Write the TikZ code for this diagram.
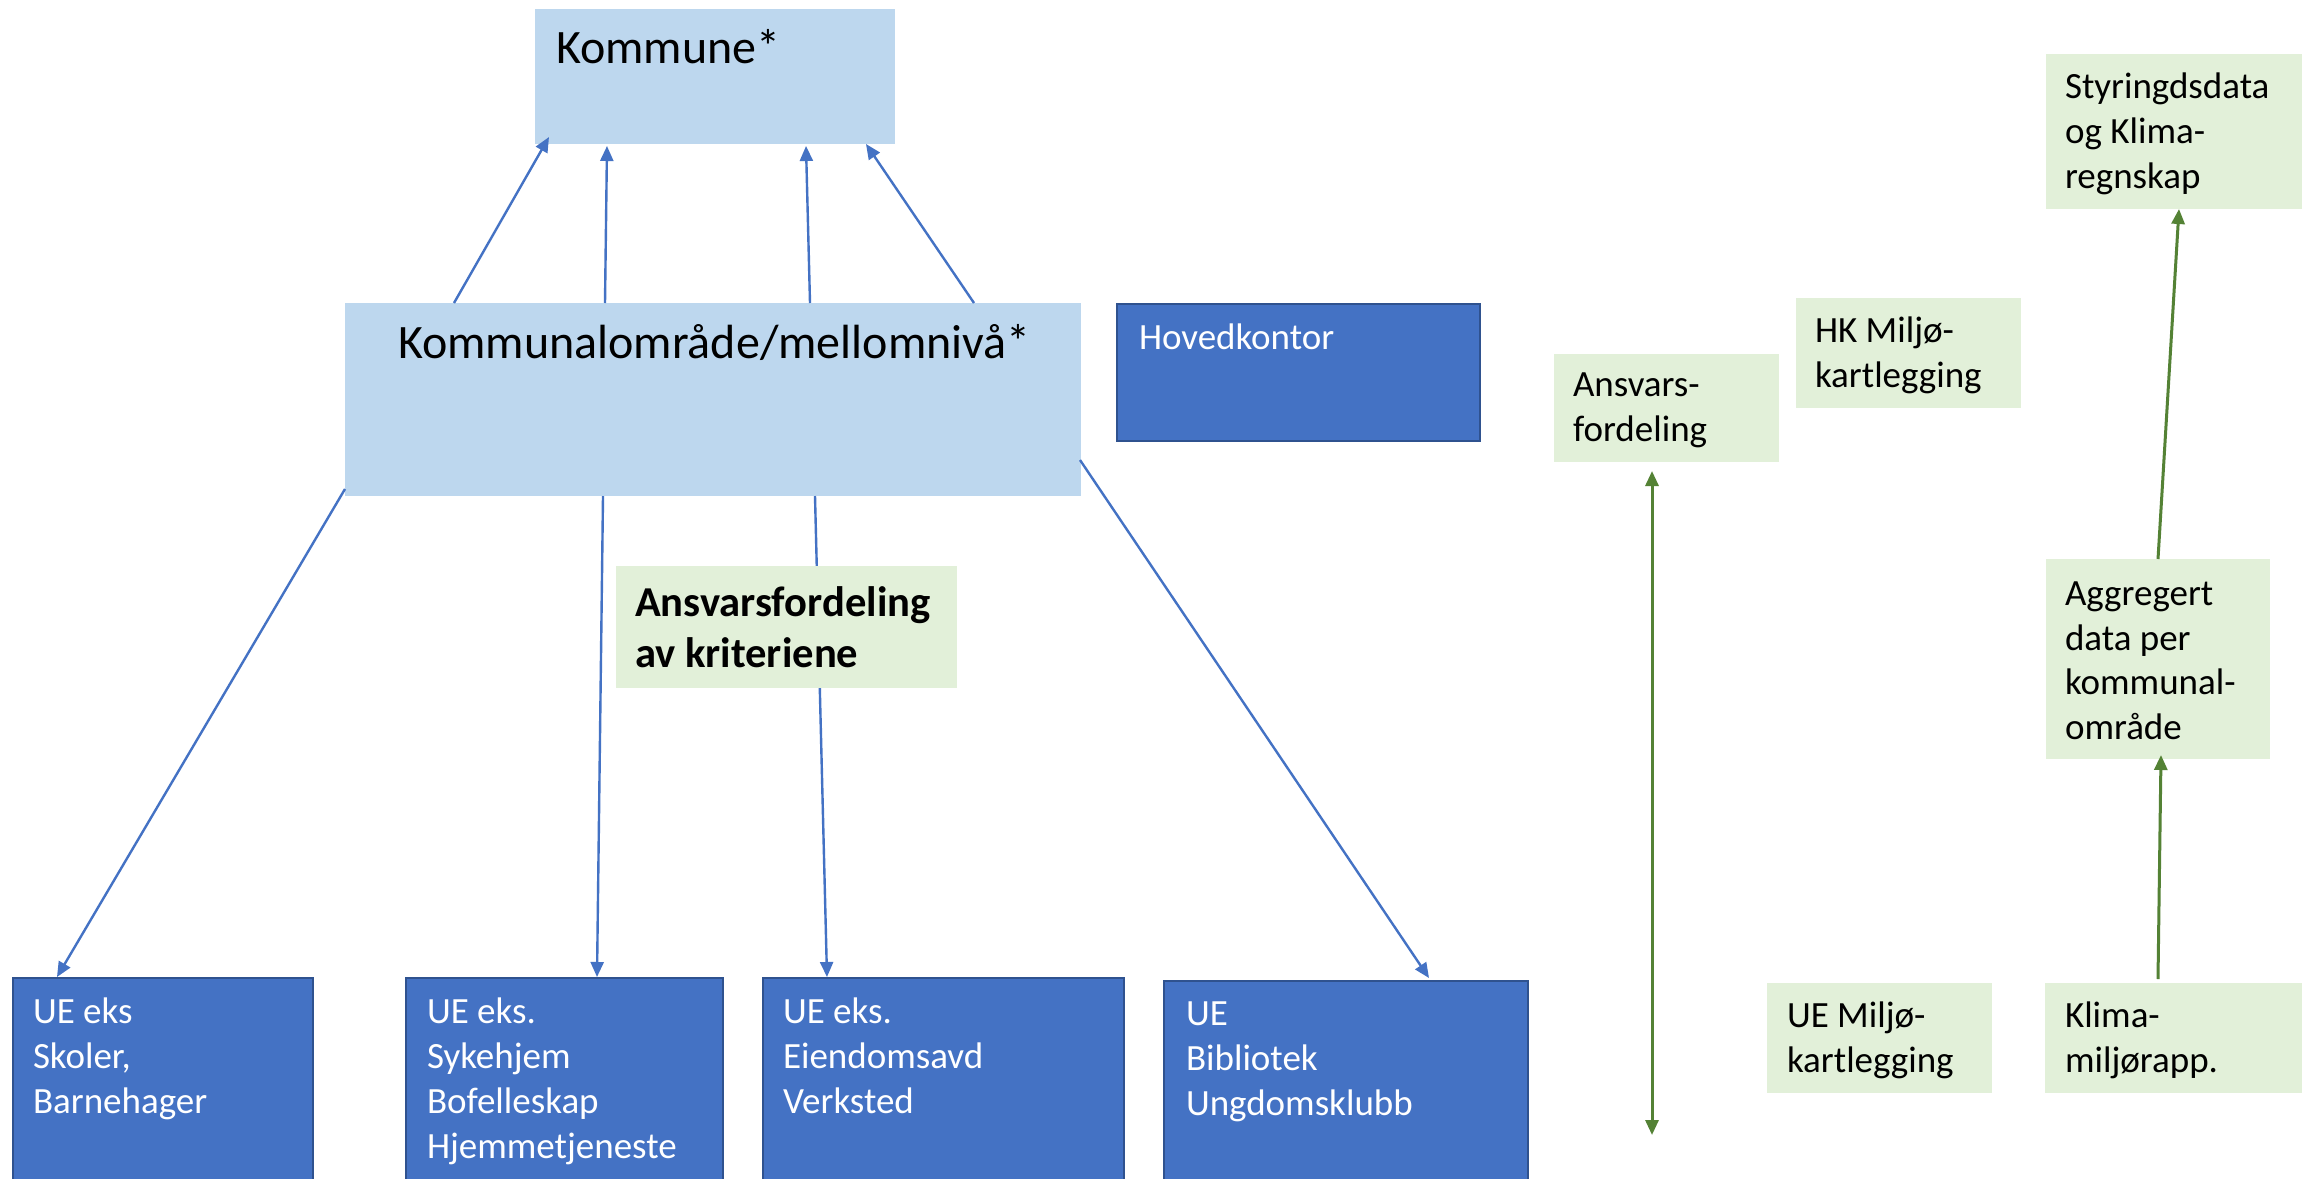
\documentclass[tikz,border=0pt]{standalone}
\usepackage{fontspec}
\setmainfont{Carlito}
\usetikzlibrary{arrows.meta,calc}
\definecolor{lblue}{HTML}{BDD7EE}
\definecolor{mblue}{HTML}{4472C4}
\definecolor{dblue}{HTML}{2F528F}
\definecolor{lgreen}{HTML}{E2F0D9}
\definecolor{dgreen}{HTML}{548235}
\begin{document}
\begin{tikzpicture}[x=1pt,y=-1pt,
  rbox/.style={anchor=north west, inner sep=0pt, outer sep=0pt},
  lbbox/.style={rbox, fill=lblue},
  bbox/.style={rbox, fill=mblue, draw=dblue, line width=2pt},
  gbox/.style={rbox, fill=lgreen},
  txt/.style={anchor=base west, inner sep=0pt, outer sep=0pt, align=left, font=\fontsize{37}{45}\selectfont},
  bigtxt/.style={txt, font=\fontsize{48}{56}\selectfont},
  wtxt/.style={txt, text=white},
  barrow/.style={draw=mblue, line width=2.4pt, -{Triangle[length=15pt,width=13pt]}},
  garrow/.style={draw=dgreen, line width=3pt, -{Triangle[length=15pt,width=13pt]}}]
\clip (0,0) rectangle (2302,1178);
\fill[white] (0,0) rectangle (2302,1178);

% (text nodes are anchored at the baseline of their last line)
% light blue boxes
\node[lbbox, minimum width=360pt, minimum height=135pt] (kommune) at (535,9) {};
\node[bigtxt] (kommune-t) at (556,63) {Kommune*};
\node[lbbox, minimum width=736pt, minimum height=193pt] (kommunal) at (345,303) {};
\node[bigtxt] (kommunal-t) at (398,358) {Kommunalområde/mellomnivå*};

% dark blue boxes
\node[bbox, minimum width=363pt, minimum height=137pt] (hoved) at (1117,304) {};
\node[wtxt] (hoved-t) at (1139,349) {Hovedkontor};
\node[bbox, minimum width=300pt, minimum height=220pt] (ue1) at (13,978) {};
\node[wtxt] (ue1-t) at (33,1113) {UE eks\\Skoler,\\Barnehager};
\node[bbox, minimum width=317pt, minimum height=220pt] (ue2) at (406,978) {};
\node[wtxt] (ue2-t) at (427,1158) {UE eks.\\Sykehjem\\Bofelleskap\\Hjemmetjeneste};
\node[bbox, minimum width=361pt, minimum height=220pt] (ue3) at (763,978) {};
\node[wtxt] (ue3-t) at (783,1113) {UE eks.\\Eiendomsavd\\Verksted};
\node[bbox, minimum width=364pt, minimum height=220pt] (ue4) at (1164,981) {};
\node[wtxt] (ue4-t) at (1186,1115) {UE\\Bibliotek\\Ungdomsklubb};

% blue arrows up
\draw[barrow] ($(kommunal.north west)+(109,0)$) -- ($(kommune.south west)+(14,-7)$);
\draw[barrow] ($(kommunal.north west)+(260,0)$) -- ($(kommune.south west)+(72,2)$);
\draw[barrow] ($(kommunal.north west)+(465,0)$) -- ($(kommune.south west)+(271,2)$);
\draw[barrow] ($(kommunal.north west)+(629,0)$) -- ($(kommune.south west)+(331,0)$);
% blue arrows down
\draw[barrow] ($(kommunal.south west)+(0,-7)$) -- ($(ue1.north west)+(44,-1)$);
\draw[barrow] ($(kommunal.south west)+(258,0)$) -- ($(ue2.north west)+(191,-1)$);
\draw[barrow] ($(kommunal.south west)+(470,0)$) -- ($(ue3.north west)+(64,-1)$);
\draw[barrow] ($(kommunal.north east)+(-1,157)$) -- ($(ue4.north west)+(265,-3)$);

% green box over lines
\node[gbox, minimum width=341pt, minimum height=122pt] (ansv) at (616,566) {};
\node[txt, font=\fontsize{42.6}{51}\selectfont\bfseries] (ansv-t) at (635,667) {Ansvarsfordeling\\av kriteriene};

% right side green boxes
\node[gbox, minimum width=270pt, minimum height=155pt] (styr) at (2046,54) {};
\node[txt] (styr-t) at (2065,188) {Styringdsdata\\og Klima-\\regnskap};
\node[gbox, minimum width=225pt, minimum height=110pt] (hk) at (1796,298) {};
\node[txt] (hk-t) at (1815,387) {HK Miljø-\\kartlegging};
\node[gbox, minimum width=225pt, minimum height=108pt] (ansv2) at (1554,354) {};
\node[txt] (ansv2-t) at (1573,441) {Ansvars-\\fordeling};
\node[gbox, minimum width=224pt, minimum height=200pt] (aggr) at (2046,559) {};
\node[txt, font=\fontsize{37}{44.5}\selectfont] (aggr-t) at (2065,739) {Aggregert\\data per\\kommunal-\\område};
\node[gbox, minimum width=225pt, minimum height=110pt] (uemil) at (1767,983) {};
\node[txt] (uemil-t) at (1787,1072) {UE Miljø-\\kartlegging};
\node[gbox, minimum width=270pt, minimum height=110pt] (klima) at (2045,983) {};
\node[txt] (klima-t) at (2065,1072) {Klima-\\miljørapp.};

% green arrows
\coordinate (dtop) at ($(ansv2.south west)+(98,9)$);
\coordinate (dbot) at (1652,1135);
\draw[garrow, {Triangle[length=15pt,width=13pt]}-{Triangle[length=15pt,width=13pt]}] (dtop) -- (dbot);
\draw[garrow] ($(aggr.north west)+(112,0)$) -- ($(styr.south west)+(133,0)$);
\draw[garrow] ($(klima.north west)+(113,-4)$) -- ($(aggr.south west)+(115,-4)$);
\end{tikzpicture}
\end{document}
